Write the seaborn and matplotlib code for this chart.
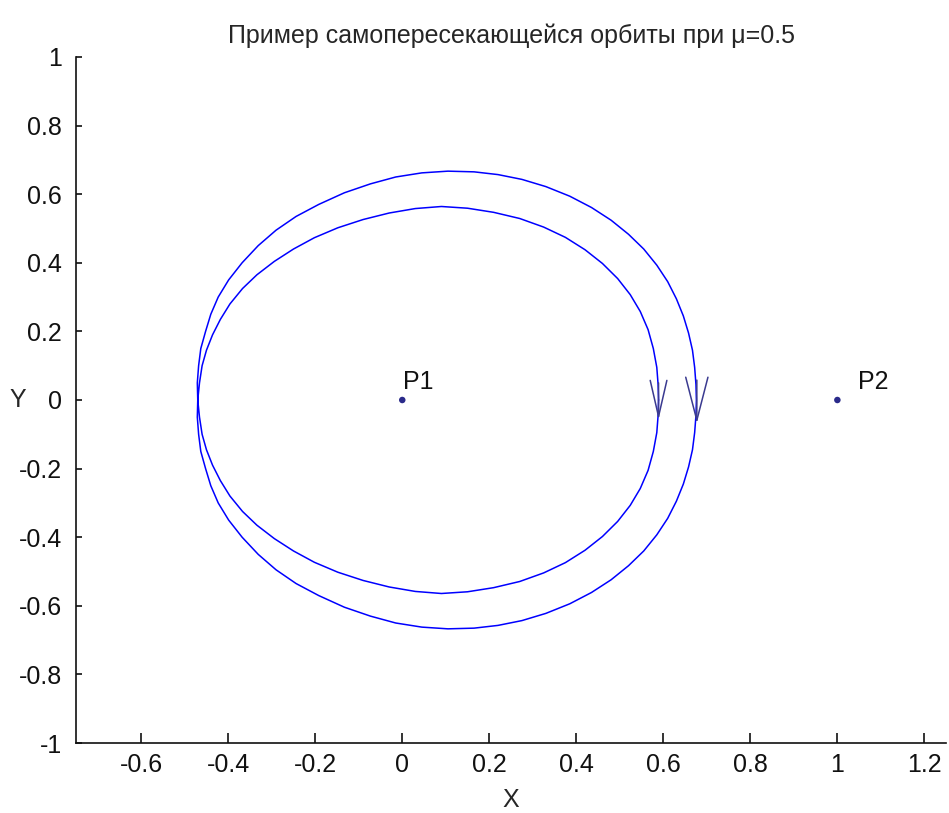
import numpy as np
import pandas as pd
import matplotlib
matplotlib.use("Agg")
import matplotlib.pyplot as plt
import seaborn as sns

# orbit, in the order it is travelled (clockwise, two laps)
orbit_x = [
    # inner loop, lower half (right -> left)
    0.589, 0.588, 0.585, 0.577, 0.565, 0.547, 0.524, 0.495, 0.460, 0.420, 0.375, 0.325, 0.270, 0.210, 0.150, 0.090,
    0.030, -0.030, -0.090, -0.148, -0.202, -0.250, -0.294, -0.334, -0.367, -0.396, -0.418, -0.436, -0.450, -0.460, -0.466,
    -0.470,
    # outer loop, upper half (left -> right)
    -0.471, -0.468, -0.463, -0.452, -0.440, -0.423, -0.399, -0.368, -0.331, -0.290, -0.244, -0.192, -0.133, -0.073,
    -0.015, 0.045, 0.105,
    0.165, 0.220, 0.275, 0.330, 0.385, 0.435, 0.480, 0.520, 0.555, 0.585, 0.610, 0.630, 0.646, 0.658, 0.667, 0.672,
    0.675, 0.676,
    # outer loop, lower half (right -> left)
    0.675, 0.672, 0.667, 0.658, 0.646, 0.630, 0.610, 0.585, 0.555, 0.520, 0.480, 0.435, 0.385, 0.330, 0.275, 0.220,
    0.165, 0.105,
    0.045, -0.015, -0.073, -0.133, -0.192, -0.244, -0.290, -0.331, -0.368, -0.399, -0.423, -0.440, -0.452, -0.463,
    -0.468, -0.471,
    -0.470,
    # inner loop, upper half (left -> right)
    -0.466, -0.460, -0.450, -0.436, -0.418, -0.396, -0.367, -0.334, -0.294, -0.250, -0.202, -0.148, -0.090, -0.030,
    0.030, 0.090,
    0.150, 0.210, 0.270, 0.325, 0.375, 0.420, 0.460, 0.495, 0.524, 0.547, 0.565, 0.577, 0.585, 0.588, 0.589,
]
orbit_y = [
    0.0, -0.045, -0.095, -0.150, -0.205, -0.258, -0.307, -0.354, -0.398, -0.438, -0.474, -0.504, -0.529, -0.547, -0.559, -0.564,
    -0.558, -0.545, -0.526, -0.502, -0.473, -0.440, -0.404, -0.365, -0.325, -0.280, -0.235, -0.190, -0.145, -0.100, -0.050,
    0.0,
    0.050, 0.100, 0.150, 0.200, 0.250, 0.300, 0.350, 0.400, 0.450, 0.495, 0.535, 0.570, 0.604, 0.630,
    0.650, 0.662, 0.667,
    0.665, 0.657, 0.643, 0.622, 0.594, 0.561, 0.524, 0.483, 0.440, 0.393, 0.345, 0.295, 0.245, 0.195, 0.145, 0.095,
    0.045, 0.0,
    -0.045, -0.095, -0.145, -0.195, -0.245, -0.295, -0.345, -0.393, -0.440, -0.483, -0.524, -0.561, -0.594, -0.622, -0.643, -0.657,
    -0.665, -0.667,
    -0.662, -0.650, -0.630, -0.604, -0.570, -0.535, -0.495, -0.450, -0.400, -0.350, -0.300, -0.250, -0.200, -0.150,
    -0.100, -0.050,
    0.0,
    0.050, 0.100, 0.145, 0.190, 0.235, 0.280, 0.325, 0.365, 0.404, 0.440, 0.473, 0.502, 0.526, 0.545,
    0.558, 0.564,
    0.559, 0.547, 0.529, 0.504, 0.474, 0.438, 0.398, 0.354, 0.307, 0.258, 0.205, 0.150, 0.095, 0.045, 0.0,
]

# the two bodies
body_names = ["P1", "P2"]
body_x = [0.0, 1.0]
body_y = [0.0, 0.0]

# velocity arrows on the x axis (tail -> tip)
arrow_x = [0.589, 0.677]
arrow_tail_y = [0.05, 0.058]
arrow_tip_y = [-0.058, -0.068]
arrow_head = [(2.6, 0.6), (3.1, 0.8)]

xticks = [-0.6, -0.4, -0.2, 0, 0.2, 0.4, 0.6, 0.8, 1, 1.2]
xticklabels = ["-0.6", "-0.4", "-0.2", "0", "0.2", "0.4", "0.6", "0.8", "1", "1.2"]
yticks = [-1, -0.8, -0.6, -0.4, -0.2, 0, 0.2, 0.4, 0.6, 0.8, 1]
yticklabels = ["-1", "-0.8", "-0.6", "-0.4", "-0.2", "0", "0.2", "0.4", "0.6", "0.8", "1"]

sns.set_style("ticks")
plt.rcParams["font.family"] = ["Liberation Sans", "DejaVu Sans"]

fig = plt.figure(figsize=(9.49, 8.13), dpi=100)
ax = fig.add_axes([0.080, 0.086, 0.917, 0.844])

orbit = pd.DataFrame({"x": orbit_x, "y": orbit_y})
sns.lineplot(data=orbit, x="x", y="y", sort=False, estimator=None,
             color="#0000ff", linewidth=1.1, ax=ax)

for x, y0, y1, (hl, hw) in zip(arrow_x, arrow_tail_y, arrow_tip_y, arrow_head):
    ax.annotate("", xy=(x, y1), xytext=(x, y0),
                arrowprops=dict(arrowstyle=f"->,head_length={hl},head_width={hw}",
                                color="#3a3a90", lw=1.1, shrinkA=0, shrinkB=0))

bodies = pd.DataFrame({"x": body_x, "y": body_y, "name": body_names})
sns.scatterplot(data=bodies, x="x", y="y", color="#2a2a8a", s=22,
                edgecolor="none", ax=ax, zorder=3)
for _, r in bodies.iterrows():
    ax.text(r["x"] + 0.002 + (0.045 if r["name"] == "P2" else 0), r["y"] + 0.052, r["name"],
            fontsize=18, color="#111111", va="center", ha="left")

ax.set_xlim(-0.75, 1.25)
ax.set_ylim(-1, 1)
ax.set_xticks(xticks)
ax.set_xticklabels(xticklabels)
ax.set_yticks(yticks)
ax.set_yticklabels(yticklabels)
ax.tick_params(axis="both", direction="in", labelsize=18, width=1.2, colors="#111111")
ax.tick_params(axis="x", length=7, pad=7)
ax.tick_params(axis="y", length=4.5, pad=10)
for s in ["left", "bottom"]:
    ax.spines[s].set_linewidth(1.2)
    ax.spines[s].set_color("#111111")
sns.despine(ax=ax)

ax.set_xlabel("X", fontsize=18, va="center")
ax.xaxis.set_label_coords(0.5, -0.083)
ax.set_ylabel("Y", fontsize=18, rotation=0, va="center", ha="center")
ax.yaxis.set_label_coords(-0.067, 0.5)
ax.set_title("Пример самопересекающейся орбиты при μ=0.5", fontsize=18, pad=10)

fig.savefig("out.png", dpi=100)
